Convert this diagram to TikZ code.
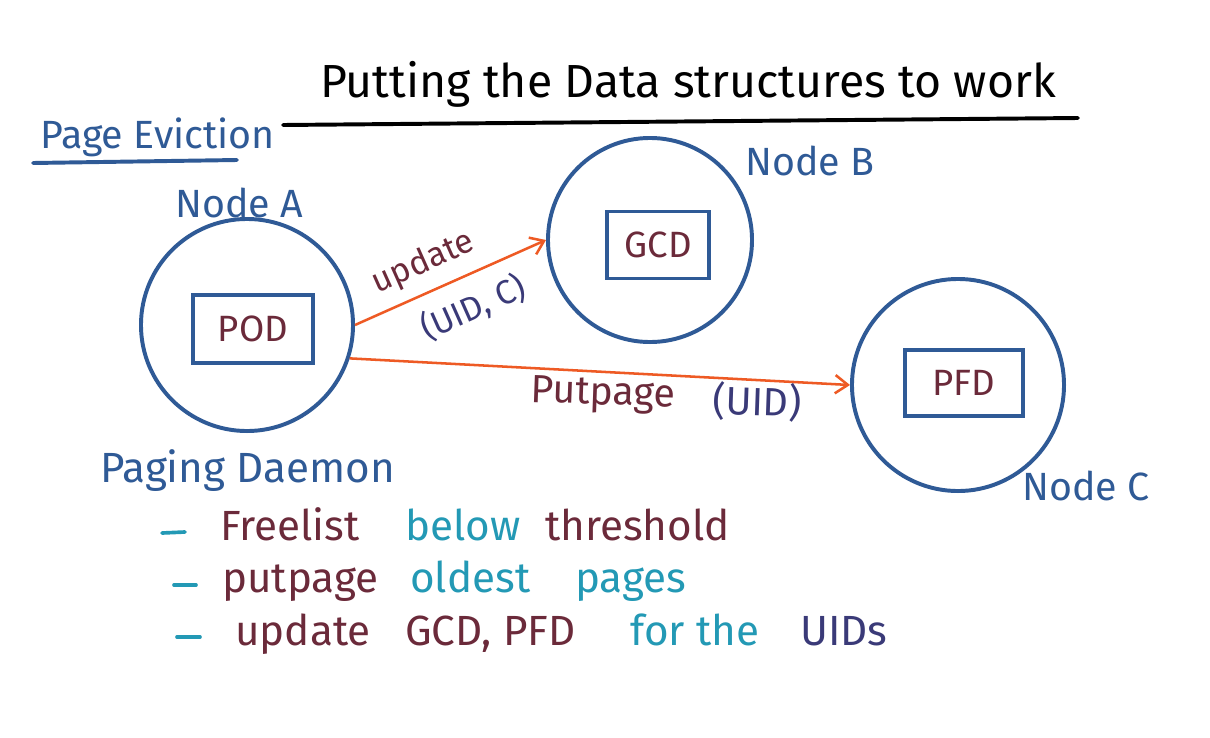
\documentclass[tikz,border=0pt]{standalone}
\usepackage{fontspec}
\setmainfont{Fira Sans}
\usetikzlibrary{arrows.meta}
\definecolor{penblue}{HTML}{2F5A96}
\definecolor{maroon}{HTML}{6B2A3A}
\definecolor{teal2}{HTML}{2399B5}
\definecolor{dpurple}{HTML}{3A3A78}
\definecolor{orangepen}{HTML}{EE5A24}
\tikzset{
  hw/.style={font=\fontsize{28}{32}\selectfont, inner sep=0pt},
  hwl/.style={font=\fontsize{30}{34}\selectfont, inner sep=0pt, anchor=base west},
  hwbig/.style={font=\fontsize{33}{36}\selectfont, inner sep=0pt},
  hwsmall/.style={font=\fontsize{24}{28}\selectfont, inner sep=0pt},
  nodecirc/.style={circle, draw=penblue, line width=2.8pt, inner sep=0pt},
  structbox/.style={rectangle, draw=penblue, line width=2.3pt, inner sep=0pt, text=maroon, font=\fontsize{26}{30}\selectfont},
  arr/.style={draw=orangepen, line width=1.8pt, -{Straight Barb[length=9pt,width=13pt,line width=1.8pt]}},
  rule/.style={line width=2.8pt, line cap=round},
  dashmark/.style={line width=2.6pt, line cap=round, teal2}
}
\begin{document}
\begin{tikzpicture}[x=0.025cm, y=-0.025cm]
\useasboundingbox[fill=white] (0,0) rectangle (1210,737);

% title
\node[hwbig, anchor=base, text=black] (title) at (688,97) {Putting the Data structures to work};
\coordinate (tl) at (283,125);
\coordinate (tr) at (1078,118);
\draw[rule, black] (tl) -- (tr);

% Page Eviction
\node[hw, anchor=base west, text=penblue] (pe) at (40,148) {Page Eviction};
\coordinate (pl) at (33,163);
\coordinate (pr) at (237,160);
\draw[rule, penblue] (pl) -- (pr);

% nodes
\node[nodecirc, minimum size=5.3cm] (A) at (247,325) {};
\node[nodecirc, minimum size=5.1cm] (B) at (650,240) {};
\node[nodecirc, minimum size=5.3cm] (C) at (958,385) {};

\node[structbox, minimum width=3cm, minimum height=1.7cm] (pod) at (253,329) {POD};
\node[structbox, minimum width=2.55cm, minimum height=1.68cm] (gcd) at (658,245) {GCD};
\node[structbox, minimum width=2.95cm, minimum height=1.65cm] (pfd) at (964,383) {PFD};

\node[hw, anchor=base west, text=penblue] (la) at (175,217) {Node A};
\node[hw, anchor=base west, text=penblue] (lb) at (745,175) {Node B};
\node[hw, anchor=base west, text=penblue] (lc) at (1022,500) {Node C};

% connectors
\draw[arr] (A.east) -- (B.west)
  node[pos=0.42, sloped, above=8pt, hwsmall, text=maroon] (upd) {update}
  node[pos=0.55, sloped, below=10pt, hwsmall, text=dpurple] (uidc) {(UID, C)};
\draw[arr] (A.-18) -- (C.west);
\node[hw, anchor=base west, text=maroon, rotate=-2] (pp) at (530,402) {Putpage};
\node[hw, anchor=base west, text=dpurple, rotate=-2] (ppu) at (712,414) {(UID)};

% Paging daemon
\node[hwl, text=penblue] (pd) at (100,482) {Paging Daemon};

\coordinate (d1a) at (162,533); \coordinate (d1b) at (185,532);
\draw[dashmark] (d1a) -- (d1b);
\node[hwl, text=maroon] (w11) at (220,540) {Freelist};
\node[hwl, text=teal2] (w12) at (405,540) {below};
\node[hwl, text=maroon] (w13) at (545,540) {threshold};

\coordinate (d2a) at (174,585); \coordinate (d2b) at (196,585);
\draw[dashmark] (d2a) -- (d2b);
\node[hwl, text=maroon] (w21) at (222,592) {putpage};
\node[hwl, text=teal2] (w22) at (410,592) {oldest};
\node[hwl, text=teal2] (w23) at (575,592) {pages};

\coordinate (d3a) at (177,637); \coordinate (d3b) at (200,637);
\draw[dashmark] (d3a) -- (d3b);
\node[hwl, text=maroon] (w31) at (235,645) {update};
\node[hwl, text=maroon] (w32) at (405,645) {GCD, PFD};
\node[hwl, text=teal2] (w33) at (630,645) {for the};
\node[hwl, text=dpurple] (w34) at (800,645) {UIDs};
\end{tikzpicture}
\end{document}
